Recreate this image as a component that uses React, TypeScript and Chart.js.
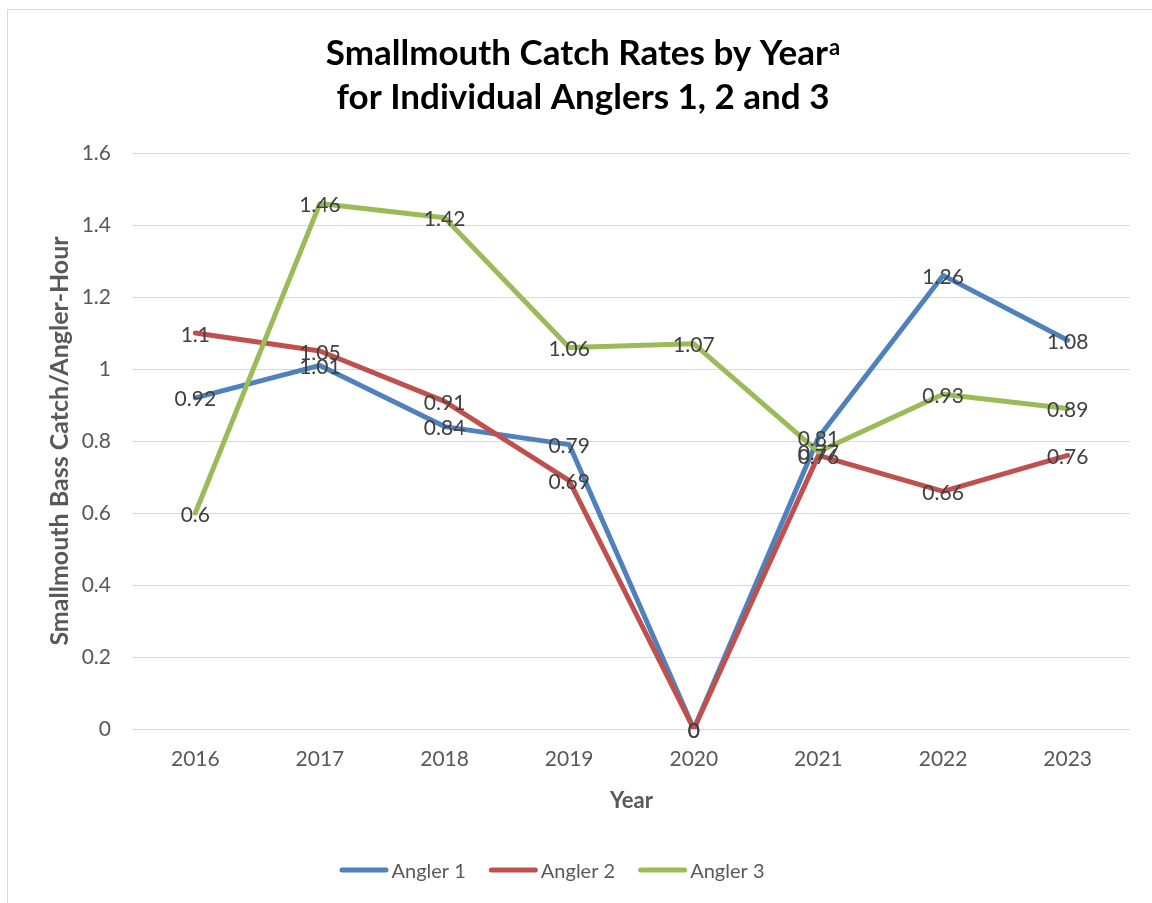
import React, { useEffect, useRef } from "react";
import { Chart, registerables } from "chart.js";

Chart.register(...registerables);

const years = ["2016", "2017", "2018", "2019", "2020", "2021", "2022", "2023"];
const angler1 = [0.92, 1.01, 0.84, 0.79, 0, 0.81, 1.26, 1.08];
const angler2 = [1.1, 1.05, 0.91, 0.69, 0, 0.76, 0.66, 0.76];
const angler3 = [0.6, 1.46, 1.42, 1.06, 1.07, 0.77, 0.93, 0.89];
const seriesNames = ["Angler 1", "Angler 2", "Angler 3"];
const seriesColors = ["#4F81BD", "#C0504D", "#9BBB59"];
const yMin = 0;
const yMax = 1.6;
const yStep = 0.2;
const titleLine1 = "Smallmouth Catch Rates by Year";
const titleSup = "a";
const titleLine2 = "for Individual Anglers 1, 2 and 3";
const xTitle = "Year";
const yTitle = "Smallmouth Bass Catch/Angler-Hour";

const FONT = "Lato";

const framePlugin = {
  id: "frame",
  beforeDraw(chart: any) {
    const ctx = chart.ctx;
    ctx.save();
    ctx.fillStyle = "#ffffff";
    ctx.fillRect(0, 0, chart.width, chart.height);
    ctx.strokeStyle = "#D9D9D9";
    ctx.lineWidth = 1;
    ctx.beginPath();
    ctx.moveTo(7.5, chart.height);
    ctx.lineTo(7.5, 9.5);
    ctx.lineTo(chart.width, 9.5);
    ctx.stroke();
    ctx.restore();
  },
};

const titlePlugin = {
  id: "customTitle",
  afterDraw(chart: any) {
    const ctx = chart.ctx;
    const cx = 583;
    ctx.save();
    ctx.fillStyle = "#000000";
    ctx.textBaseline = "alphabetic";
    ctx.font = `bold 35px ${FONT}`;
    const w1 = ctx.measureText(titleLine1).width;
    ctx.font = `bold 22px ${FONT}`;
    const ws = ctx.measureText(titleSup).width;
    const start = cx - (w1 + ws + 1) / 2;
    ctx.font = `bold 35px ${FONT}`;
    ctx.textAlign = "left";
    ctx.fillText(titleLine1, start, 65);
    ctx.font = `bold 22px ${FONT}`;
    ctx.fillText(titleSup, start + w1 + 1, 55);
    ctx.font = `bold 35px ${FONT}`;
    ctx.textAlign = "center";
    ctx.fillText(titleLine2, cx, 109);
    ctx.restore();
  },
};

const labelPlugin = {
  id: "dataLabels",
  afterDatasetsDraw(chart: any) {
    const ctx = chart.ctx;
    ctx.save();
    ctx.font = `21px ${FONT}`;
    ctx.fillStyle = "#404040";
    ctx.textAlign = "center";
    ctx.textBaseline = "alphabetic";
    chart.data.datasets.forEach((ds: any, i: number) => {
      const meta = chart.getDatasetMeta(i);
      meta.data.forEach((pt: any, j: number) => {
        const v = ds.data[j];
        ctx.fillText(String(v), pt.x, pt.y + 8.5);
      });
    });
    ctx.restore();
  },
};

const legendPlugin = {
  id: "customLegend",
  afterDraw(chart: any) {
    const ctx = chart.ctx;
    const lineLen = 49;
    const gapText = 3;
    const gapItem = 23;
    const yc = 870;
    ctx.save();
    ctx.font = `20px ${FONT}`;
    const widths = chart.data.datasets.map((d: any) => ctx.measureText(d.label).width);
    let total = 0;
    widths.forEach((w: number, i: number) => {
      total += lineLen + gapText + w + (i < widths.length - 1 ? gapItem : 0);
    });
    let x = 552 - total / 2;
    chart.data.datasets.forEach((d: any, i: number) => {
      ctx.strokeStyle = d.borderColor;
      ctx.lineWidth = 5;
      ctx.lineCap = "round";
      ctx.beginPath();
      ctx.moveTo(x + 2.5, yc);
      ctx.lineTo(x + lineLen - 2.5, yc);
      ctx.stroke();
      ctx.fillStyle = "#595959";
      ctx.textAlign = "left";
      ctx.textBaseline = "alphabetic";
      ctx.fillText(d.label, x + lineLen + gapText, 878);
      x += lineLen + gapText + widths[i] + gapItem;
    });
    ctx.restore();
  },
};

export default function App() {
  const ref = useRef<HTMLCanvasElement | null>(null);
  useEffect(() => {
    if (!ref.current) return;
    const seriesData = [angler1, angler2, angler3];
    const chart = new Chart(ref.current, {
      type: "line",
      data: {
        labels: years,
        datasets: seriesData.map((d, i) => ({
          label: seriesNames[i],
          data: d,
          borderColor: seriesColors[i],
          backgroundColor: seriesColors[i],
          borderWidth: 5,
          borderCapStyle: "round",
          borderJoinStyle: "round",
          pointRadius: 0,
          pointHoverRadius: 0,
          tension: 0,
          fill: false,
          order: 3 - i,
        })),
      },
      options: {
        responsive: false,
        animation: false,
        events: [],
        layout: { padding: { top: 153, right: 22, bottom: 83, left: 0 } },
        plugins: {
          legend: { display: false },
          title: { display: false },
          tooltip: { enabled: false },
        },
        scales: {
          x: {
            type: "category",
            offset: true,
            grid: { display: false, drawTicks: false },
            border: { display: false },
            ticks: {
              color: "#595959",
              font: { family: FONT, size: 21 },
              padding: 18,
              maxRotation: 0,
            },
            title: {
              display: true,
              text: xTitle,
              color: "#595959",
              font: { family: FONT, size: 22, weight: "bold" },
              padding: { top: 0, bottom: 6 },
            },
            afterFit(scale: any) {
              scale.height = 91;
            },
          },
          y: {
            min: yMin,
            max: yMax,
            grid: { color: "#D9D9D9", lineWidth: 1, drawTicks: false },
            border: { display: false },
            ticks: {
              stepSize: yStep,
              color: "#595959",
              font: { family: FONT, size: 21 },
              padding: 22,
              callback: (v: any) => String(+Number(v).toFixed(2)),
            },
            title: {
              display: true,
              text: yTitle,
              color: "#595959",
              font: { family: FONT, size: 25, weight: "bold" },
              padding: { top: 45, bottom: 0 },
            },
            afterFit(scale: any) {
              scale.width = 133;
            },
          },
        },
      },
      plugins: [framePlugin, labelPlugin, titlePlugin, legendPlugin],
    } as any);
    return () => chart.destroy();
  }, []);
  return (
    <div style={{ position: "absolute", left: 0, top: 0, width: 1152, height: 903 }}>
      <canvas ref={ref} width={1152} height={903} style={{ display: "block" }} />
    </div>
  );
}
